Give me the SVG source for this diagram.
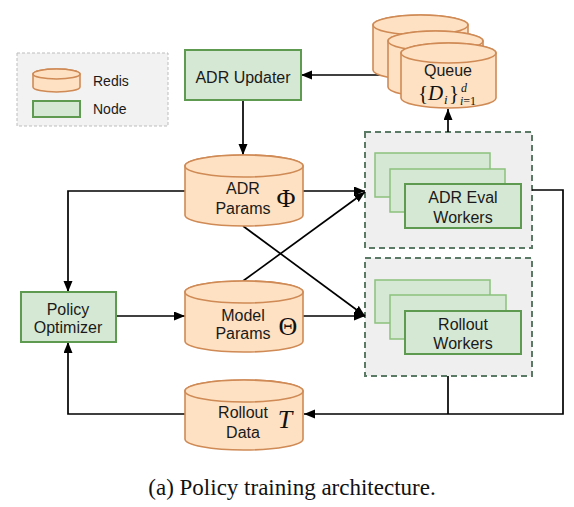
<svg xmlns="http://www.w3.org/2000/svg" width="574" height="507" viewBox="0 0 574 507">
<defs>
<marker id="arr" markerWidth="12" markerHeight="10" refX="11" refY="4.5" orient="auto" markerUnits="userSpaceOnUse">
<path d="M0,0 L11,4.5 L0,9 Z" fill="#000"/>
</marker>
</defs>
<style>
.cyl{fill:#fde1c2;stroke:#cf8a55;stroke-width:1.6}
.node{fill:#d5e8d4;stroke:#5e9a50;stroke-width:2}
.back{fill:#d5e8d4;stroke:#8cc17c;stroke-width:1.5}
.grp{fill:#efefef;stroke:#5b7a66;stroke-width:2;stroke-dasharray:6 4}
.lbl{font-family:"Liberation Sans",Arial,sans-serif;font-size:16px;fill:#1a1a1a;text-anchor:middle}
.leg{font-family:"Liberation Sans",Arial,sans-serif;font-size:14px;fill:#1a1a1a}
.math{font-family:"Liberation Serif","Times New Roman",serif;fill:#111}
.conn{fill:none;stroke:#000;stroke-width:1.7}
</style>
<rect width="574" height="507" fill="#fff"/>

<g id="legend">
<rect x="17" y="53" width="151" height="73" fill="#f2f2f2" stroke="#bdbdbd" stroke-width="1" stroke-dasharray="3 2"/>
<path class="cyl" d="M33,74 A23.5,5 0 0 1 80,74 V87 A23.5,5 0 0 1 33,87 Z"/>
<ellipse class="cyl" cx="56.5" cy="74" rx="23.5" ry="5"/>
<text class="leg" x="93" y="86">Redis</text>
<rect class="node" x="33" y="101" width="47" height="16" stroke-width="1.6"/>
<text class="leg" x="93" y="114">Node</text>
</g>

<g id="adr-eval-group">
<rect class="grp" x="365" y="132" width="167" height="116"/>
</g>
<g id="rollout-group">
<rect class="grp" x="365" y="258" width="167" height="118"/>
</g>

<g id="connectors">
<line class="conn" x1="243" y1="100" x2="243" y2="155" marker-end="url(#arr)"/>
<line class="conn" x1="401" y1="75" x2="301" y2="75" marker-end="url(#arr)"/>
<line class="conn" x1="448" y1="132" x2="448" y2="109" marker-end="url(#arr)"/>
<polyline class="conn" points="185,191 68,191 68,292" marker-end="url(#arr)"/>
<line class="conn" x1="303" y1="191" x2="365" y2="191" marker-end="url(#arr)"/>
<line class="conn" x1="243" y1="281" x2="365" y2="192" marker-end="url(#arr)"/>
<line class="conn" x1="243" y1="226" x2="365" y2="316" marker-end="url(#arr)"/>
<line class="conn" x1="116" y1="316" x2="185" y2="316" marker-end="url(#arr)"/>
<line class="conn" x1="303" y1="316" x2="365" y2="316" marker-end="url(#arr)"/>
<polyline class="conn" points="532,190 563,190 563,414 304,414" marker-end="url(#arr)"/>
<polyline class="conn" points="448,376 448,414"/>
<polyline class="conn" points="185,414 68,414 68,342" marker-end="url(#arr)"/>
</g>

<g id="adr-updater">
<rect class="node" x="185" y="50" width="116" height="50"/>
<text class="lbl" x="243" y="83">ADR Updater</text>
</g>

<g id="queue">
<path class="cyl" d="M373,25 A47.5,10 0 0 1 468,25 V70 A47.5,10 0 0 1 373,70 Z"/>
<ellipse class="cyl" cx="420.5" cy="25" rx="47.5" ry="10"/>
<path class="cyl" d="M388,41 A47.5,10 0 0 1 483,41 V87 A47.5,10 0 0 1 388,87 Z"/>
<ellipse class="cyl" cx="435.5" cy="41" rx="47.5" ry="10"/>
<path class="cyl" d="M401,53 A47.5,10 0 0 1 496,53 V98 A47.5,10 0 0 1 401,98 Z"/>
<ellipse class="cyl" cx="448.5" cy="53" rx="47.5" ry="10"/>
<text class="lbl" x="448" y="76">Queue</text>
<text class="math" x="418" y="100" font-size="21">{<tspan font-style="italic">D</tspan></text>
<text class="math" x="444" y="104" font-size="13" font-style="italic">i</text>
<text class="math" x="449" y="100" font-size="21">}</text>
<text class="math" x="461" y="92" font-size="12" font-style="italic">d</text>
<text class="math" x="460" y="105" font-size="12"><tspan font-style="italic">i</tspan>=1</text>
</g>

<g id="adr-params">
<path class="cyl" d="M185,166 A59,11 0 0 1 303,166 V215 A59,11 0 0 1 185,215 Z"/>
<ellipse class="cyl" cx="244" cy="166" rx="59" ry="11"/>
<text class="lbl" x="243" y="194">ADR</text>
<text class="lbl" x="243" y="214">Params</text>
<text class="math" x="286" y="207" font-size="26" text-anchor="middle">Φ</text>
</g>

<g id="model-params">
<path class="cyl" d="M185,292 A59,11 0 0 1 303,292 V341 A59,11 0 0 1 185,341 Z"/>
<ellipse class="cyl" cx="244" cy="292" rx="59" ry="11"/>
<text class="lbl" x="243" y="321">Model</text>
<text class="lbl" x="243" y="339">Params</text>
<text class="math" x="288" y="335" font-size="26" text-anchor="middle">Θ</text>
</g>

<g id="rollout-data">
<path class="cyl" d="M185,391 A59,11 0 0 1 303,391 V439 A59,11 0 0 1 185,439 Z"/>
<ellipse class="cyl" cx="244" cy="391" rx="59" ry="11"/>
<text class="lbl" x="243" y="418">Rollout</text>
<text class="lbl" x="243" y="438">Data</text>
<text class="math" x="285" y="428" font-size="26" font-style="italic" text-anchor="middle">T</text>
</g>

<g id="policy-optimizer">
<rect class="node" x="21" y="292" width="95" height="50"/>
<text class="lbl" x="68" y="315">Policy</text>
<text class="lbl" x="68" y="333">Optimizer</text>
</g>

<g id="adr-eval-workers">
<rect class="back" x="375" y="153" width="115" height="44"/>
<rect class="back" x="390" y="169" width="115" height="43"/>
<rect class="node" x="405" y="184" width="116" height="44"/>
<text class="lbl" x="463" y="203">ADR Eval</text>
<text class="lbl" x="463" y="223">Workers</text>
</g>

<g id="rollout-workers">
<rect class="back" x="375" y="280" width="115" height="43"/>
<rect class="back" x="390" y="295" width="116" height="44"/>
<rect class="node" x="405" y="311" width="116" height="43"/>
<text class="lbl" x="463" y="330">Rollout</text>
<text class="lbl" x="463" y="349">Workers</text>
</g>

<text class="math" x="292" y="495" font-size="23" text-anchor="middle">(a) Policy training architecture.</text>
</svg>
